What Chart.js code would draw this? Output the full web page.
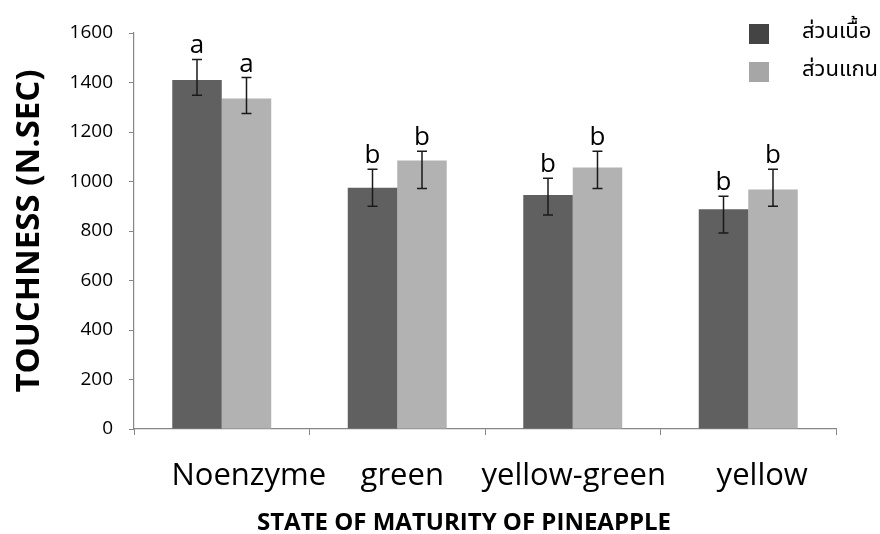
<!DOCTYPE html>
<html lang="en">

<head>
    <meta charset="UTF-8" />
    <title>Touchness by state of maturity</title>
    <script src="https://cdn.jsdelivr.net/npm/chart.js"></script>
    <style>
        html, body { margin: 0; padding: 0; background: #fff; }
        #wrap { width: 880px; height: 534px; position: relative; }
    </style>
</head>

<body>
    <div id="wrap">
        <canvas id="toughChart"></canvas>
    </div>

    <script>
        // data
        const categories = ["Noenzyme", "green", "yellow-green", "yellow"];
        const seriesNames = ["ส่วนเนื้อ", "ส่วนแกน"];
        const fleshValues = [1410, 975, 945, 888];
        const coreValues = [1335, 1085, 1057, 968];
        const fleshErrHigh = [1493, 1050, 1013, 940];
        const fleshErrLow = [1348, 900, 865, 792];
        const coreErrHigh = [1420, 1122, 1122, 1050];
        const coreErrLow = [1275, 972, 972, 900];
        const fleshLetters = ["a", "b", "b", "b"];
        const coreLetters = ["a", "b", "b", "b"];
        const yTicks = [0, 200, 400, 600, 800, 1000, 1200, 1400, 1600];
        const xTitle = "STATE OF MATURITY OF PINEAPPLE";
        const yTitle = "TOUCHNESS (N.SEC)";

        const darkGrey = "#606060";
        const lightGrey = "#b2b2b2";
        const legendColors = ["#444444", "#a6a6a6"];
        const axisGrey = "#868686";
        // the category labels sit a little right of centre in the original
        const labelShift = [27, 5, 1, 14];
        const thaiFont = "'Noto Sans Thai', 'Loma', 'Garuda', 'Tlwg Typo', 'Open Sans', sans-serif";

        Chart.defaults.font.family = "'Open Sans', sans-serif";
        Chart.defaults.color = "#000";

        const errHigh = [fleshErrHigh, coreErrHigh];
        const errLow = [fleshErrLow, coreErrLow];
        const letters = [fleshLetters, coreLetters];

        // error bars, a/b letters, category labels, x title and legend
        const extrasPlugin = {
            id: "extras",
            afterDatasetsDraw(chart) {
                const ctx = chart.ctx;
                const x = chart.scales.x;
                const y = chart.scales.y;
                ctx.save();
                chart.data.datasets.forEach((ds, di) => {
                    const meta = chart.getDatasetMeta(di);
                    meta.data.forEach((bar, i) => {
                        const yHi = y.getPixelForValue(errHigh[di][i]);
                        const yLo = y.getPixelForValue(errLow[di][i]);
                        ctx.strokeStyle = "#1a1a1a";
                        ctx.lineWidth = 1.5;
                        ctx.beginPath();
                        ctx.moveTo(bar.x, yHi);
                        ctx.lineTo(bar.x, yLo);
                        ctx.moveTo(bar.x - 5, yHi);
                        ctx.lineTo(bar.x + 5, yHi);
                        ctx.moveTo(bar.x - 5, yLo);
                        ctx.lineTo(bar.x + 5, yLo);
                        ctx.stroke();

                        ctx.fillStyle = "#000";
                        ctx.font = "26px 'Open Sans', sans-serif";
                        ctx.textAlign = "center";
                        ctx.textBaseline = "alphabetic";
                        ctx.fillText(letters[di][i], bar.x, yHi - 6);
                    });
                });

                // category labels
                ctx.fillStyle = "#000";
                ctx.font = "31px 'Open Sans', sans-serif";
                ctx.textAlign = "center";
                ctx.textBaseline = "middle";
                categories.forEach((c, i) => {
                    ctx.fillText(c, x.getPixelForValue(i) + labelShift[i], 476);
                });

                // x axis title (off-centre in the original)
                ctx.font = "bold 24px 'Open Sans', sans-serif";
                ctx.fillText(xTitle, 464, 523);

                // legend, top right
                const rows = [34, 72];
                seriesNames.forEach((name, i) => {
                    ctx.fillStyle = legendColors[i];
                    ctx.fillRect(749, rows[i] - 10, 20, 20);
                    ctx.fillStyle = "#000";
                    ctx.font = "22px " + thaiFont;
                    ctx.textAlign = "left";
                    ctx.textBaseline = "middle";
                    ctx.fillText(name, 802, rows[i]);
                });
                ctx.restore();
            },
        };

        const ctxTough = document.getElementById("toughChart").getContext("2d");
        const toughChart = new Chart(ctxTough, {
            type: "bar",
            data: {
                labels: categories,
                datasets: [
                    {
                        label: seriesNames[0],
                        data: fleshValues,
                        backgroundColor: darkGrey,
                        borderWidth: 0,
                    },
                    {
                        label: seriesNames[1],
                        data: coreValues,
                        backgroundColor: lightGrey,
                        borderWidth: 0,
                    },
                ],
            },
            options: {
                responsive: true,
                maintainAspectRatio: false,
                animation: false,
                categoryPercentage: 0.564,
                barPercentage: 1,
                layout: {
                    padding: { top: 33, right: 44, left: 0, bottom: 0 },
                },
                plugins: {
                    legend: { display: false },
                    tooltip: { enabled: false },
                },
                scales: {
                    x: {
                        grid: {
                            offset: true,
                            drawOnChartArea: false,
                            tickLength: 6,
                            color: axisGrey,
                        },
                        border: { color: axisGrey, width: 1.2 },
                        ticks: {
                            display: false,
                            autoSkip: false,
                        },
                        afterFit(scale) {
                            scale.height = 105;
                        },
                    },
                    y: {
                        min: 0,
                        max: 1600,
                        afterBuildTicks(scale) {
                            scale.ticks = yTicks.map((v) => ({ value: v }));
                        },
                        grid: {
                            drawOnChartArea: false,
                            tickLength: 5,
                            color: axisGrey,
                        },
                        border: { color: axisGrey, width: 1.2 },
                        ticks: {
                            font: { size: 19 },
                            padding: 16,
                            callback: (v) => String(v),
                        },
                        title: {
                            display: true,
                            text: yTitle,
                            font: { size: 33, weight: "bold" },
                            padding: { top: 10, bottom: 0 },
                        },
                        afterFit(scale) {
                            scale.width = 134;
                        },
                    },
                },
            },
            plugins: [extrasPlugin],
        });
    </script>
</body>

</html>
